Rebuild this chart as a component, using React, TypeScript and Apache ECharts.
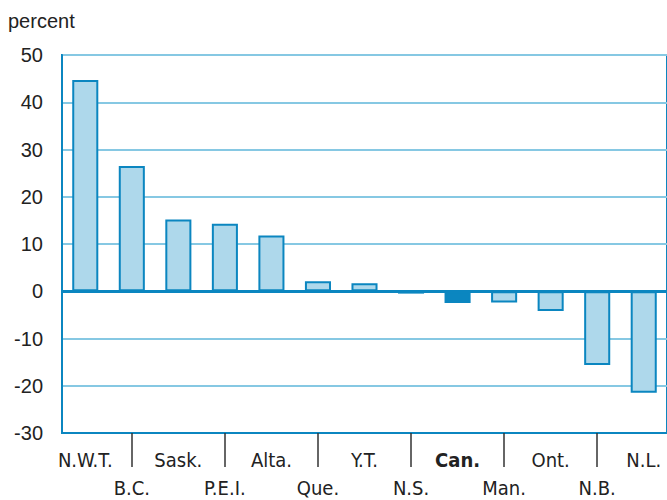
import React, { useEffect, useRef } from "react";
import * as echarts from "echarts";

const categories = ["N.W.T.", "B.C.", "Sask.", "P.E.I.", "Alta.", "Que.", "Y.T.", "N.S.", "Can.", "Man.", "Ont.", "N.B.", "N.L."];
const values = [44.7, 26.5, 15.2, 14.3, 11.8, 2.1, 1.7, -0.5, -2.5, -2.4, -4.2, -15.6, -21.5];
const highlight = "Can.";
const yMin = -30;
const yMax = 50;
const yStep = 10;

const DARK = "#0b86c0";
const LIGHT_FILL = "#aed8eb";
const GRID = "#86c8e3";

export default function App() {
  const ref = useRef<HTMLDivElement>(null);
  useEffect(() => {
    if (!ref.current) return;
    const chart = echarts.init(ref.current, undefined, { renderer: "svg" });
    chart.setOption({
      animation: false,
      grid: {
        left: 62,
        top: 55,
        width: 606,
        bottom: 67,
        show: true,
        borderColor: DARK,
        borderWidth: 2,
        backgroundColor: "transparent",
      },
      graphic: [
        {
          type: "text",
          left: 8,
          top: 11,
          style: { text: "percent", font: "20px 'Liberation Sans Narrow', 'Liberation Sans', Arial, sans-serif", fill: "#222" },
        },
      ],
      xAxis: {
        type: "category",
        data: categories,
        axisLine: { show: true, onZero: false, lineStyle: { color: DARK, width: 2 } },
        axisTick: {
          show: true,
          alignWithLabel: true,
          length: 34,
          interval: (index: number) => index % 2 === 1,
          lineStyle: { color: "#333", width: 1.5 },
        },
        axisLabel: {
          interval: 0,
          margin: 13,
          color: "#222",
          formatter: (v: string, i: number) => {
            const tok = v === highlight ? `{b|${v}}` : `{n|${v}}`;
            return i % 2 === 1 ? `{n| }\n${tok}` : tok;
          },
          rich: {
            n: { fontFamily: "'Liberation Sans Narrow', 'DejaVu Sans Condensed', sans-serif", fontSize: 20, lineHeight: 28, color: "#222" },
            b: { fontFamily: "'Liberation Sans Narrow', 'DejaVu Sans Condensed', sans-serif", fontSize: 20, lineHeight: 28, fontWeight: "bold", color: "#222" },
          },
        },
        splitLine: { show: false },
      },
      yAxis: {
        type: "value",
        min: yMin,
        max: yMax,
        interval: yStep,
        axisLine: { show: true, lineStyle: { color: DARK, width: 2 } },
        axisTick: { show: false },
        axisLabel: {
          margin: 19,
          color: "#222",
          fontFamily: "'Liberation Sans', Arial, sans-serif",
          fontSize: 20,
        },
        splitLine: { show: true, lineStyle: { color: GRID, width: 2 } },
      },
      series: [
        {
          type: "bar",
          barWidth: "56%",
          data: values.map((v, i) => ({
            value: v,
            itemStyle: {
              color: categories[i] === highlight ? DARK : LIGHT_FILL,
              borderColor: DARK,
              borderWidth: 2,
            },
          })),
          markLine: {
            silent: true,
            symbol: "none",
            label: { show: false },
            lineStyle: { color: DARK, width: 3, type: "solid" },
            data: [{ yAxis: 0 }],
          },
        },
      ],
    });
    return () => chart.dispose();
  }, []);
  return <div ref={ref} style={{ width: 667, height: 500, position: "absolute", left: 0, top: 0 }} />;
}
